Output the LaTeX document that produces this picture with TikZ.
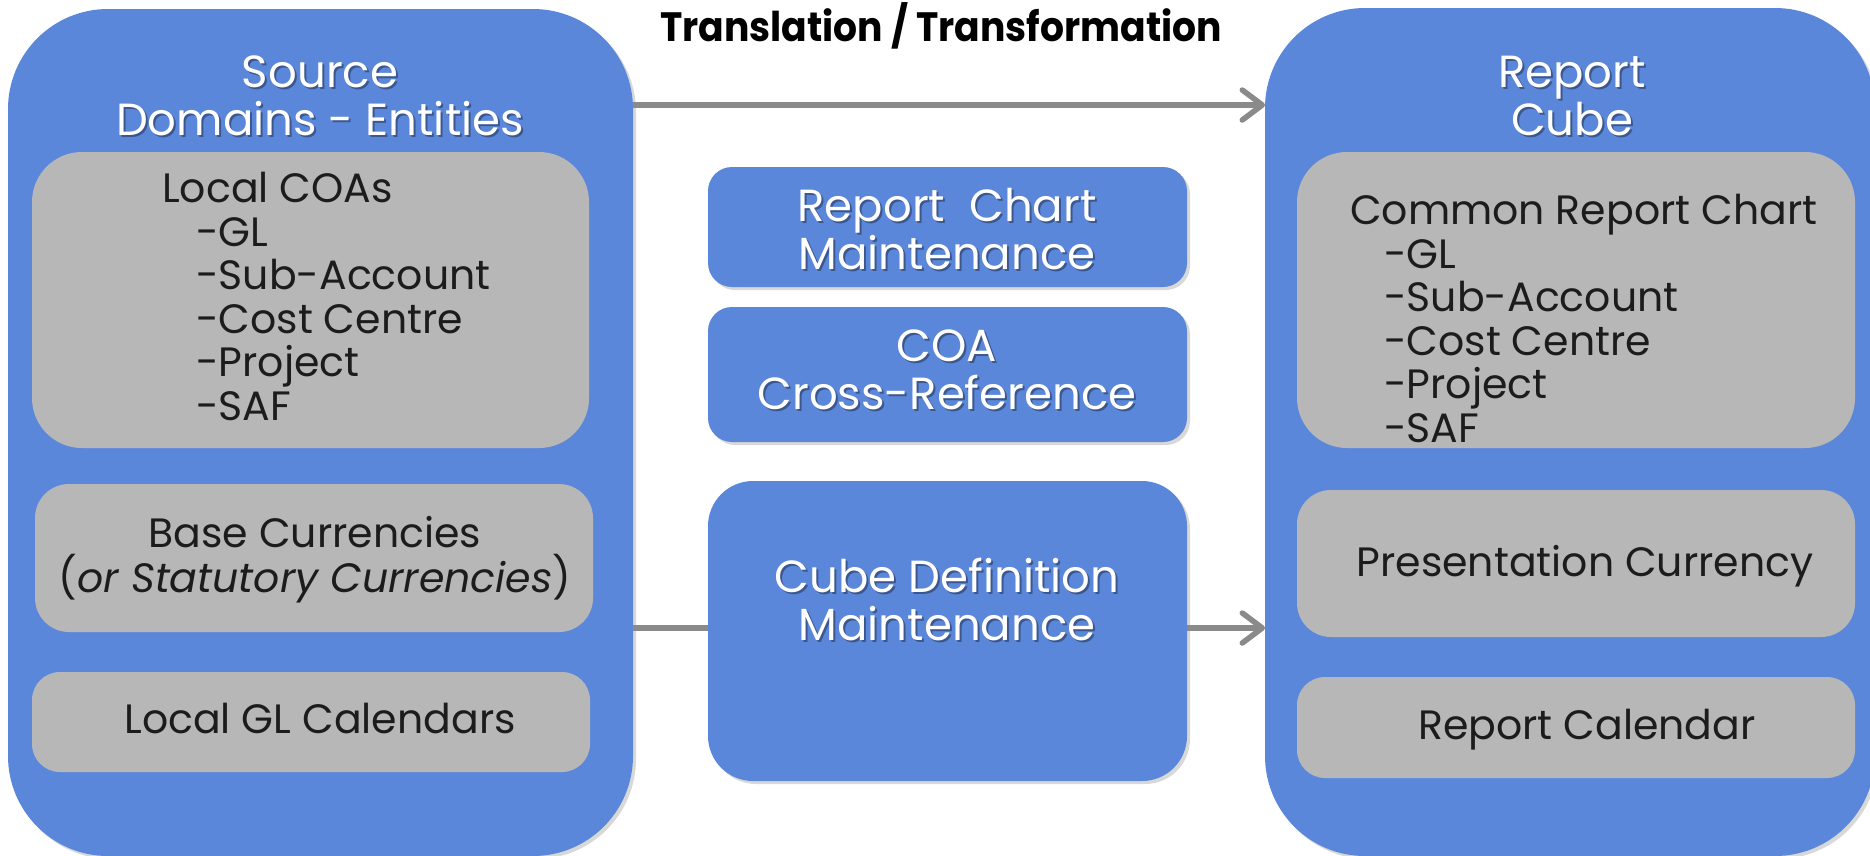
\documentclass[tikz,border=0pt]{standalone}
\usepackage{fontspec}
\usepackage{graphicx}
\setmainfont{Poppins}
\usetikzlibrary{shadows,arrows.meta}

\definecolor{boxblue}{HTML}{5B87DA}
\definecolor{boxgray}{HTML}{B7B7B7}
\definecolor{linkgray}{HTML}{8A8A8A}
\definecolor{inktext}{HTML}{1C1C1C}

\tikzset{
  panel/.style={fill=boxblue, draw=none, inner sep=0pt, outer sep=0pt, anchor=north west,
    drop shadow={opacity=0.3, shadow xshift=3pt, shadow yshift=-3pt}},
  slot/.style={fill=boxgray, draw=none, inner sep=0pt, outer sep=0pt, anchor=north west},
  headfont/.style={font=\fontsize{45}{48}\selectfont},
  heading/.style={headfont, text=white, align=center, inner sep=0pt, anchor=base},
  headshade/.style={headfont, text=black, text opacity=0.35, align=center, inner sep=0pt, anchor=base},
  body/.style={text=inktext, font=\fontsize{41}{43.5}\selectfont, inner sep=0pt, anchor=base},
  link/.style={draw=linkgray, line width=5.5pt},
  tip/.style={-{Straight Barb[length=20pt, width=30pt, round]}}
}

\begin{document}
\begin{tikzpicture}[x=1pt, y=-1pt]
\clip (0,0) rectangle (1870,855);
\fill[white] (0,0) rectangle (1870,855);

% outer panels
\node[panel, minimum width=625pt, minimum height=847pt, rounded corners=100pt] (L) at (8,9) {};
\node[panel, minimum width=610pt, minimum height=848pt, rounded corners=100pt] (R) at (1265,8) {};

% middle column
\node[panel, minimum width=479pt, minimum height=120pt, rounded corners=24pt] (M1) at (708,167) {};
\node[panel, minimum width=479pt, minimum height=135pt, rounded corners=24pt] (M2) at (708,307) {};
\node[panel, minimum width=479pt, minimum height=300pt, rounded corners=45pt] (M3) at (708,481) {};

% inner slots of the source panel
\node[slot, minimum width=557pt, minimum height=296pt, rounded corners=50pt] (G1) at (32,152) {};
\node[slot, minimum width=558pt, minimum height=148pt, rounded corners=34pt] (G2) at (35,484) {};
\node[slot, minimum width=558pt, minimum height=100pt, rounded corners=28pt] (G3) at (32,672) {};

% inner slots of the report panel
\node[slot, minimum width=558pt, minimum height=296pt, rounded corners=50pt] (H1) at (1297,152) {};
\node[slot, minimum width=558pt, minimum height=147pt, rounded corners=34pt] (H2) at (1297,490) {};
\node[slot, minimum width=558pt, minimum height=101pt, rounded corners=28pt] (H3) at (1297,677) {};

% connectors
\path (L.north east) ++(0,96) coordinate (ta);
\path (L.north east) ++(0,619) coordinate (ba);
\draw[link, tip] (ta) -- (ta -| R.west);
\draw[link] (ba) -- (ba -| M3.west);
\draw[link, tip] (ba -| M3.east) -- (ba -| R.west);

% title
\node[inner sep=0pt, anchor=base, text=black] (title) at (941,41)
  {\fontsize{41}{41}\selectfont\bfseries\scalebox{0.92}[1]{Translation / Transformation}};

% panel headings (anchored at the baseline of their last line)
\node[headshade] at (322,137) {Source\\Domains - Entities};
\node[heading] (Lh) at (320,135) {Source\\Domains - Entities};
\node[headshade] at (1574,137) {Report\\Cube};
\node[heading] (Rh) at (1572,135) {Report\\Cube};
\node[headshade] at (949,271) {Report\ \ Chart\\Maintenance};
\node[heading] (M1t) at (947,269) {Report\ \ Chart\\Maintenance};
\node[headshade] at (949,411) {COA\\Cross-Reference};
\node[heading] (M2t) at (947,409) {COA\\Cross-Reference};
\node[headshade] at (949,642) {Cube Definition\\Maintenance};
\node[heading] (M3t) at (947,640) {Cube Definition\\Maintenance};

% slot texts
\node[body, anchor=base west, align=left] (G1t) at (162,420)
  {Local COAs\\\hspace*{34pt}-GL\\\hspace*{34pt}-Sub-Account\\\hspace*{34pt}-Cost Centre\\\hspace*{34pt}-Project\\\hspace*{34pt}-SAF};
\node[body, align=center, font=\fontsize{41}{45}\selectfont] (G2t) at (315,592)
  {Base Currencies\\(\textit{or Statutory Currencies})};
\node[body] (G3t) at (320,733) {Local GL Calendars};

\node[body, anchor=base west, align=left] (H1t) at (1350,442)
  {Common Report Chart\\\hspace*{34pt}-GL\\\hspace*{34pt}-Sub-Account\\\hspace*{34pt}-Cost Centre\\\hspace*{34pt}-Project\\\hspace*{34pt}-SAF};
\node[body] (H2t) at (1585,576) {Presentation Currency};
\node[body] (H3t) at (1587,739) {Report Calendar};
\end{tikzpicture}
\end{document}
